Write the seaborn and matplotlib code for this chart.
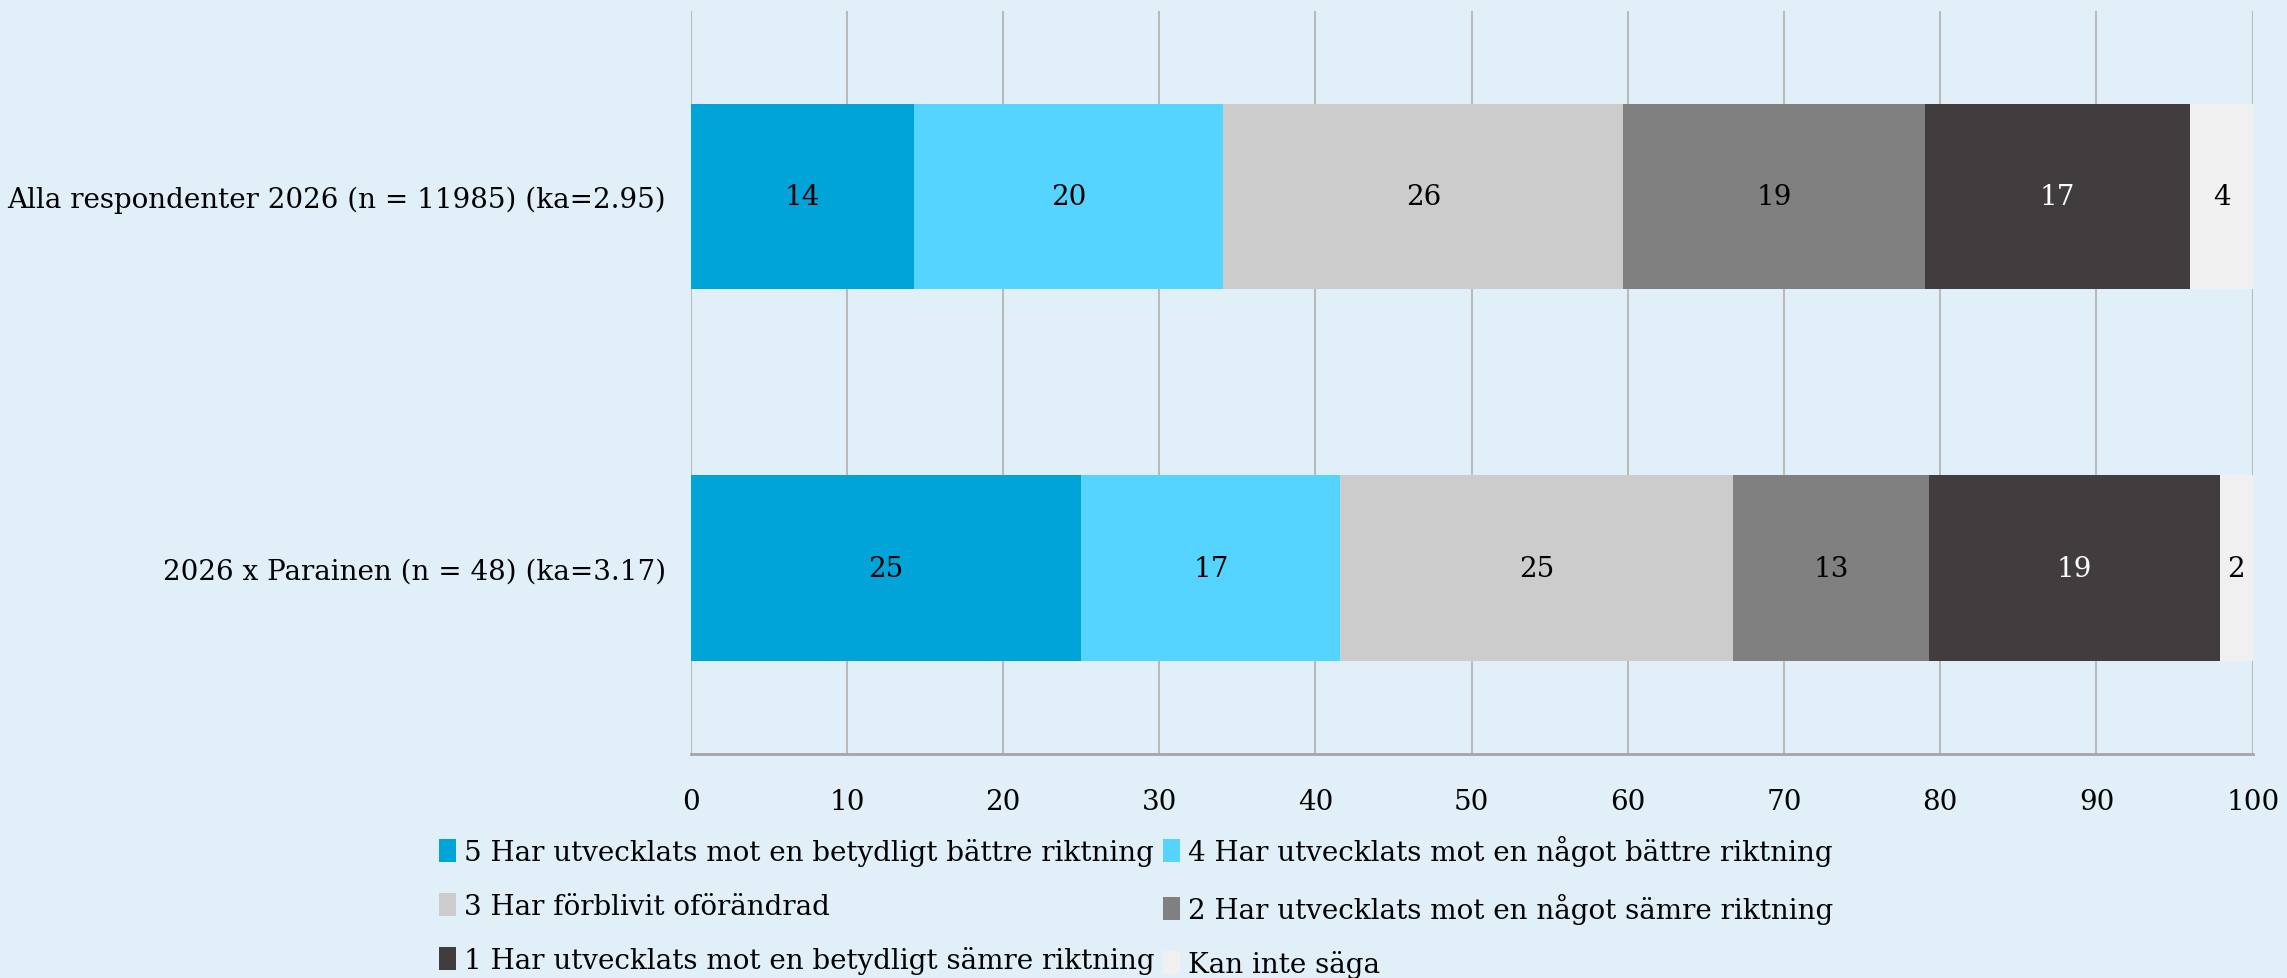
import numpy as np
import pandas as pd
import matplotlib
matplotlib.use("Agg")
import matplotlib.pyplot as plt
import seaborn as sns
from matplotlib.patches import Patch

# data
groups = ["Alla respondenter 2026 (n = 11985) (ka=2.95)",
          "2026 x Parainen (n = 48) (ka=3.17)"]
categories = ["5 Har utvecklats mot en betydligt bättre riktning",
              "4 Har utvecklats mot en något bättre riktning",
              "3 Har förblivit oförändrad",
              "2 Har utvecklats mot en något sämre riktning",
              "1 Har utvecklats mot en betydligt sämre riktning",
              "Kan inte säga"]
alla = [14.3, 19.8, 25.6, 19.3, 17.0, 4.0]
parainen = [25.0, 16.6, 25.1, 12.6, 18.6, 2.1]
colors = ["#00A4D9", "#55D4FF", "#CCCCCC", "#808080", "#413C3E", "#F0F0F0"]
text_colors = ["black", "black", "black", "black", "white", "black"]

bg = "#E1F0F8"
sns.set_style("white")
plt.rcParams["font.family"] = ["DejaVu Serif"]
plt.rcParams["text.color"] = "black"
plt.rcParams["xtick.labelcolor"] = "black"
plt.rcParams["ytick.labelcolor"] = "black"

df = pd.DataFrame({"group": groups * len(categories),
                   "category": np.repeat(categories, len(groups)),
                   "value": [v for pair in zip(alla, parainen) for v in pair]})
wide = df.pivot(index="group", columns="category", values="value").loc[groups, categories]
cum = wide.cumsum(axis=1)

fig = plt.figure(figsize=(22.87, 9.79), dpi=100, facecolor=bg)
ax = fig.add_axes([0.302, 0.229, 0.683, 0.759])
ax.set_facecolor(bg)

# stacked bars: draw cumulative totals from largest to smallest
for cat, col in reversed(list(zip(categories, colors))):
    sns.barplot(x=cum[cat].values, y=groups, orient="h", color=col,
                width=0.5, saturation=1, linewidth=0, ax=ax, zorder=2)

for i, g in enumerate(groups):
    lefts = cum.loc[g].values - wide.loc[g].values
    for j, cat in enumerate(categories):
        v = wide.loc[g, cat]
        ax.text(lefts[j] + v / 2, i, f"{v:.0f}", ha="center", va="center",
                fontsize=20, color=text_colors[j], zorder=3)

ax.set_xlim(0, 100)
ax.set_ylim(1.5, -0.5)
ax.set_xticks(range(0, 101, 10))
ax.xaxis.grid(True, color="#BABABA", linewidth=1.5, zorder=0)
ax.set_axisbelow(True)
for s in ["top", "right", "left"]:
    ax.spines[s].set_visible(False)
ax.spines["bottom"].set_color("#A6A6A6")
ax.spines["bottom"].set_linewidth(2)
ax.tick_params(axis="x", direction="inout", length=13, width=1.5, color="#A6A6A6",
               labelsize=20, pad=18, labelcolor="black")
ax.tick_params(axis="y", length=0, labelsize=20, pad=18, labelcolor="black")
ax.set_xlabel("")
ax.set_ylabel("")

handles = [Patch(facecolor=c, edgecolor="none") for c in colors]
order = [0, 2, 4, 1, 3, 5]
fig.legend([handles[k] for k in order], [categories[k] for k in order],
           ncol=2, loc="upper left", bbox_to_anchor=(0.186, 0.16),
           frameon=False, fontsize=20, handlelength=0.6, handleheight=0.9,
           handletextpad=0.3, columnspacing=0.3, labelspacing=0.95, borderpad=0)

fig.savefig("out.png", dpi=100, facecolor=bg)
